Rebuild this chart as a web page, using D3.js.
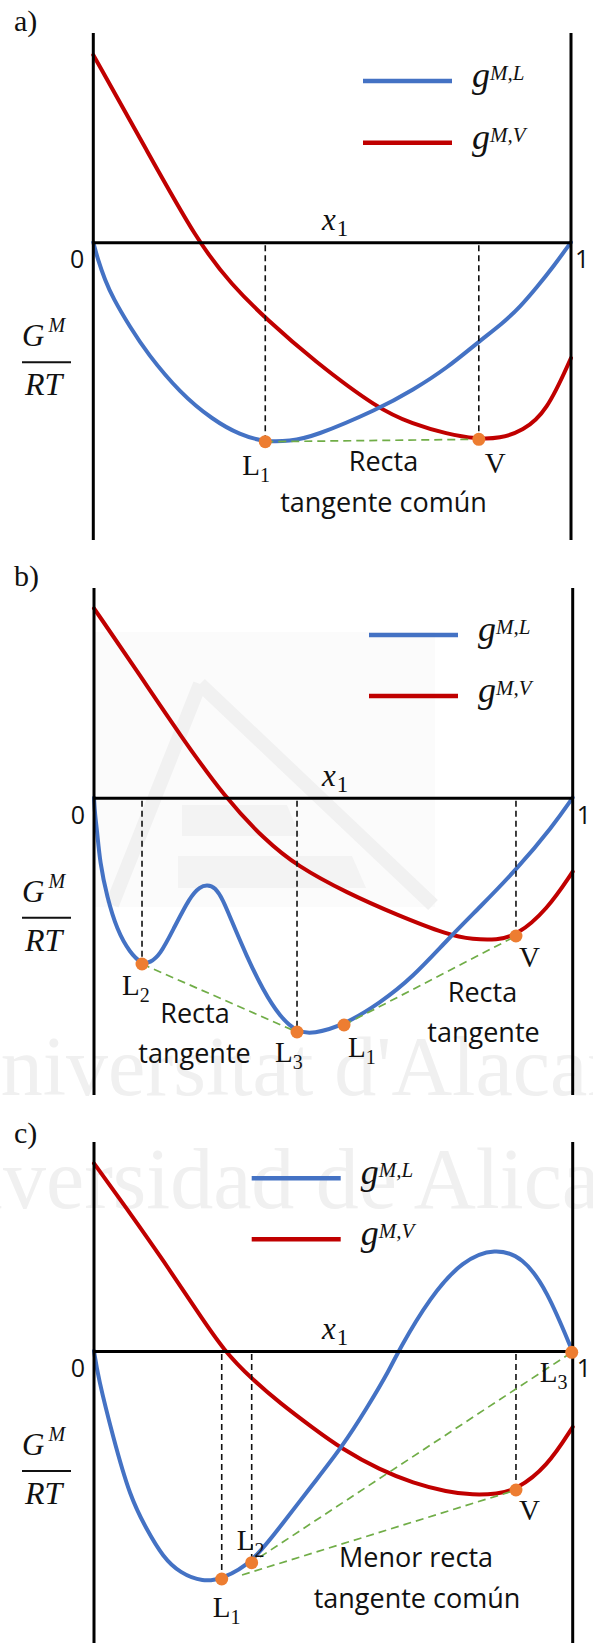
<!DOCTYPE html>
<html>
<head>
<meta charset="utf-8">
<script src="https://cdn.jsdelivr.net/npm/d3@7"></script>
<style>
  html, body { margin: 0; padding: 0; background: #fff; }
  svg { display: block; }
</style>
</head>
<body>
<svg id="fig"></svg>
<script>
// ---------------------------------------------------------------------------
// Data: mixing Gibbs energy G^M/RT against x1 (1 unit = one G/RT step).
// Each curve is a list of [x1, G^M/RT] readings.
// ---------------------------------------------------------------------------
const panelTags = ["a)", "b)", "c)"];
const axisEnds = ["0", "1"];
const legendSup = ["M,L", "M,V"];

// Panel a: ideal-like liquid and a vapour branch, one common tangent
const gL_a = [[0,0],[0.0098,-0.177],[0.0245,-0.377],[0.0412,-0.557],[0.0768,-0.847],[0.1124,-1.107],
  [0.1815,-1.507],[0.2506,-1.777],[0.3072,-1.927],[0.3595,-1.997],[0.4118,-1.987],[0.46,-1.947],
  [0.5973,-1.667],[0.6693,-1.477],[0.7405,-1.257],[0.8033,-1.007],[0.8577,-0.807],[0.8933,-0.647],
  [0.9289,-0.447],[0.9624,-0.247],[1,0]];
const gV_a = [[0,1.873],[0.108,0.953],[0.219,0],[0.29,-0.427],[0.364,-0.777],[0.46,-1.177],
  [0.596,-1.667],[0.669,-1.817],[0.74,-1.917],[0.803,-1.967],[0.851,-1.962],[0.899,-1.887],
  [0.949,-1.697],[1,-1.157]];
const pts_a = [
  {name:"L", sub:"1", x:0.360, y:-1.994, drop:true},
  {name:"V", sub:"",  x:0.807, y:-1.970, drop:true}
];
const tan_a = [[[0.360,-1.994],[0.807,-1.970]]];
const notes_a = ["Recta", "tangente común"];

// Panel b: liquid with a split (two liquid minima)
const gL_b = [[0,0],[0.0021,-0.173],[0.0063,-0.323],[0.0125,-0.653],[0.0272,-0.993],[0.048,-1.323],
  [0.0752,-1.553],[0.1003,-1.663],[0.117,-1.65],[0.1379,-1.573],[0.165,-1.323],[0.2005,-0.99],
  [0.2214,-0.89],[0.2361,-0.873],[0.2528,-0.893],[0.2695,-1.023],[0.2841,-1.193],[0.3196,-1.593],
  [0.353,-1.923],[0.3886,-2.193],[0.4241,-2.343],[0.4575,-2.363],[0.5223,-2.273],[0.5975,-2.053],
  [0.6664,-1.793],[0.7395,-1.413],[0.8063,-1.093],[0.8836,-0.713],[0.9588,-0.283],[1,0]];
const gV_b = [[0,1.894],[0.0898,1.267],[0.1797,0.627],[0.2737,0],[0.3572,-0.423],[0.4241,-0.683],
  [0.5285,-0.953],[0.633,-1.173],[0.7395,-1.373],[0.7917,-1.418],[0.8419,-1.423],[0.8815,-1.383],
  [0.9463,-1.123],[1,-0.74]];
const pts_b = [
  {name:"L", sub:"2", x:0.1003, y:-1.663, drop:true},
  {name:"L", sub:"3", x:0.4241, y:-2.343, drop:true},
  {name:"L", sub:"1", x:0.5223, y:-2.273, drop:false},
  {name:"V", sub:"",  x:0.8815, y:-1.383, drop:true}
];
const tan_b = [[[0.1003,-1.663],[0.4241,-2.343]], [[0.5223,-2.273],[0.8815,-1.383]]];
const notes_b = ["Recta", "tangente", "Recta", "tangente"];

// Panel c: liquid rising above zero, lowest common tangent
const gL_c = [[0,0],[0.0084,-0.26],[0.0397,-0.86],[0.0752,-1.46],[0.1107,-1.79],[0.1441,-2.06],
  [0.1797,-2.22],[0.2277,-2.31],[0.2674,-2.28],[0.3301,-2.12],[0.3886,-1.76],[0.4575,-1.33],
  [0.5181,-0.96],[0.5703,-0.57],[0.6183,-0.18],[0.6357,0],[0.7019,0.54],[0.7708,0.91],
  [0.8377,1.03],[0.8962,0.94],[0.9463,0.61],[1,-0.01]];
const gV_c = [[0,1.877],[0.0752,1.38],[0.1441,0.91],[0.2152,0.4],[0.2716,0],[0.3321,-0.29],
  [0.3886,-0.52],[0.4575,-0.77],[0.5181,-0.98],[0.5975,-1.19],[0.6664,-1.32],[0.7374,-1.41],
  [0.7917,-1.44],[0.8419,-1.43],[0.8815,-1.39],[0.9463,-1.16],[1,-0.76]];
const pts_c = [
  {name:"L", sub:"1", x:0.2668, y:-2.28,  drop:true},
  {name:"L", sub:"2", x:0.3294, y:-2.117, drop:true},
  {name:"V", sub:"",  x:0.8815, y:-1.39,  drop:true},
  {name:"L", sub:"3", x:0.998,  y:-0.013, drop:false}
];
const tan_c = [[[0.3092,-2.24],[0.8815,-1.39]], [[0.3468,-2.06],[0.998,-0.013]]];
const notes_c = ["Menor recta", "tangente común"];

const panels = [
  {gL:gL_a, gV:gV_a, pts:pts_a, tan:tan_a, notes:notes_a},
  {gL:gL_b, gV:gV_b, pts:pts_b, tan:tan_b, notes:notes_b},
  {gL:gL_c, gV:gV_c, pts:pts_c, tan:tan_c, notes:notes_c}
];

// ---------------------------------------------------------------------------
// Layout (pixels)
// ---------------------------------------------------------------------------
const W = 593, H = 1643;
const layout = [
  {left:93.3, right:571,   top:33,   bottom:540,  y0:242.3, tagY:31,   legX:363,   legY:[81, 142.7],
   lab:[[-23,33],[6,34]],
   noteXY:[[383.5,471],[383.5,512]]},
  {left:94,   right:572.7, top:588,  bottom:1095, y0:797.7, tagY:586,  legX:369,   legY:[635, 696],
   lab:[[-20,31],[-22,30],[4,32],[3,31]],
   noteXY:[[195,1023],[194.5,1063],[482.5,1002],[483.5,1042]]},
  {left:94,   right:572.7, top:1142, bottom:1643, y0:1351,  tagY:1143, legX:251.7, legY:[1178.3, 1239.3],
   lab:[[-9,38],[-15,-13],[3,30],[-32,30]],
   noteXY:[[416,1567],[417,1608]]}
];

const BLUE = "#4472C4", RED = "#C00000", ORANGE = "#ED7D31", GREEN = "#70AD47";
const SERIF = "'Liberation Serif','Times New Roman',serif";
const SANS = "'Open Sans','Noto Sans',sans-serif";

const svg = d3.select("#fig").attr("width", W).attr("height", H)
  .attr("viewBox", `0 0 ${W} ${H}`);
svg.append("rect").attr("width", W).attr("height", H).attr("fill", "#fff");

// Faint institutional watermark in the background
const wm = svg.append("g").attr("pointer-events", "none");
wm.append("rect").attr("x", 95).attr("y", 632).attr("width", 340).attr("height", 275).attr("fill", "#fbfbfb");
wm.append("path")
  .attr("d", "M200,684 L433,905 M200,684 L112,905")
  .attr("stroke", "#f1f1f1").attr("stroke-width", 14).attr("fill", "none");
wm.append("path")
  .attr("d", "M182,805 L287,805 L300,836 L182,836 Z M178,856 L352,856 L366,888 L178,888 Z")
  .attr("fill", "#f3f3f3");
wm.append("text").attr("x", -60).attr("y", 1095)
  .attr("font-family", SERIF).attr("font-size", 84).attr("fill", "#f0f0f0")
  .text("Universitat d'Alacant");
wm.append("text").attr("x", -126).attr("y", 1208)
  .attr("font-family", SERIF).attr("font-size", 86).attr("fill", "#f0f0f0")
  .text("Universidad de Alicante");

panels.forEach((p, i) => {
  const L = layout[i];
  const x = d3.scaleLinear().domain([0, 1]).range([L.left, L.right]);
  const y = d3.scaleLinear().domain([0, -1]).range([L.y0, L.y0 + 100]);
  const g = svg.append("g");

  // smooth B-spline through the readings
  const curve = d3.line().x(d => x(d[0])).y(d => y(d[1])).curve(d3.curveBasis);

  // panel tag
  g.append("text").attr("x", 14).attr("y", L.tagY)
    .attr("font-family", SERIF).attr("font-size", 30).attr("fill", "#111").text(panelTags[i]);

  // vapour and liquid curves
  g.append("path").attr("d", curve(p.gV)).attr("fill", "none")
    .attr("stroke", RED).attr("stroke-width", 4).attr("stroke-linecap", "round");
  g.append("path").attr("d", curve(p.gL)).attr("fill", "none")
    .attr("stroke", BLUE).attr("stroke-width", 4).attr("stroke-linecap", "round");

  // side walls at x1 = 0 and x1 = 1
  [0, 1].forEach(v => {
    g.append("line").attr("x1", x(v)).attr("x2", x(v)).attr("y1", L.top).attr("y2", L.bottom)
      .attr("stroke", "#000").attr("stroke-width", 3);
  });

  // zero line as a tick-less axis
  const ax = g.append("g").attr("transform", `translate(0,${y(0)})`)
    .call(d3.axisBottom(x).tickValues([]).tickSizeOuter(0));
  ax.select(".domain").attr("stroke", "#000").attr("stroke-width", 3);

  g.append("text").attr("x", x(0) - 9).attr("y", y(0) + 26).attr("text-anchor", "end")
    .attr("font-family", SANS).attr("font-size", 25).attr("fill", "#111").text(axisEnds[0]);
  g.append("text").attr("x", x(1) + 4).attr("y", y(0) + 26)
    .attr("font-family", SANS).attr("font-size", 25).attr("fill", "#111").text(axisEnds[1]);

  // x1 axis title
  const xt = g.append("text").attr("x", 322).attr("y", y(0) - 12)
    .attr("font-family", SERIF).attr("fill", "#111");
  xt.append("tspan").attr("font-style", "italic").attr("font-size", 31).text("x");
  xt.append("tspan").attr("font-size", 23).attr("dy", 6).attr("dx", 1).text("1");

  // G^M / RT
  const gm = g.append("text").attr("x", 22).attr("y", y(0) + 104)
    .attr("font-family", SERIF).attr("font-style", "italic").attr("fill", "#111");
  gm.append("tspan").attr("font-size", 31).text("G");
  gm.append("tspan").attr("font-size", 20).attr("dx", 4).attr("dy", -14).text("M");
  g.append("line").attr("x1", 22).attr("x2", 71).attr("y1", y(0) + 120).attr("y2", y(0) + 120)
    .attr("stroke", "#111").attr("stroke-width", 2);
  g.append("text").attr("x", 25).attr("y", y(0) + 153)
    .attr("font-family", SERIF).attr("font-style", "italic").attr("font-size", 32)
    .attr("fill", "#111").text("RT");

  // dashed drops from the zero line to the equilibrium points
  p.pts.filter(d => d.drop).forEach(d => {
    g.append("line").attr("x1", x(d.x)).attr("x2", x(d.x)).attr("y1", y(0) + 3).attr("y2", y(d.y))
      .attr("stroke", "#111").attr("stroke-width", 1.6).attr("stroke-dasharray", "6,4");
  });

  // tangent lines
  p.tan.forEach(seg => {
    g.append("line")
      .attr("x1", x(seg[0][0])).attr("y1", y(seg[0][1]))
      .attr("x2", x(seg[1][0])).attr("y2", y(seg[1][1]))
      .attr("stroke", GREEN).attr("stroke-width", 1.7).attr("stroke-dasharray", "8,5");
  });

  // equilibrium points and their labels
  p.pts.forEach((d, k) => {
    g.append("circle").attr("cx", x(d.x)).attr("cy", y(d.y)).attr("r", 6.5).attr("fill", ORANGE);
    const t = g.append("text").attr("x", x(d.x) + L.lab[k][0]).attr("y", y(d.y) + L.lab[k][1])
      .attr("font-family", SERIF).attr("fill", "#111");
    t.append("tspan").attr("font-size", 29).text(d.name);
    if (d.sub) t.append("tspan").attr("font-size", 20).attr("dy", 7).text(d.sub);
  });

  // annotations
  p.notes.forEach((s, k) => {
    g.append("text").attr("x", L.noteXY[k][0]).attr("y", L.noteXY[k][1]).attr("text-anchor", "middle")
      .attr("font-family", SANS).attr("font-size", 27).attr("fill", "#111").text(s);
  });

  // legend
  [BLUE, RED].forEach((c, k) => {
    const ly = L.legY[k];
    g.append("line").attr("x1", L.legX).attr("x2", L.legX + 89).attr("y1", ly).attr("y2", ly)
      .attr("stroke", c).attr("stroke-width", 4.5);
    const lt = g.append("text").attr("x", L.legX + 109).attr("y", ly + 6)
      .attr("font-family", SERIF).attr("font-style", "italic").attr("fill", "#111");
    lt.append("tspan").attr("font-size", 36).text("g");
    lt.append("tspan").attr("font-size", 21).attr("dy", -7).text(legendSup[k]);
  });
});
</script>
</body>
</html>
